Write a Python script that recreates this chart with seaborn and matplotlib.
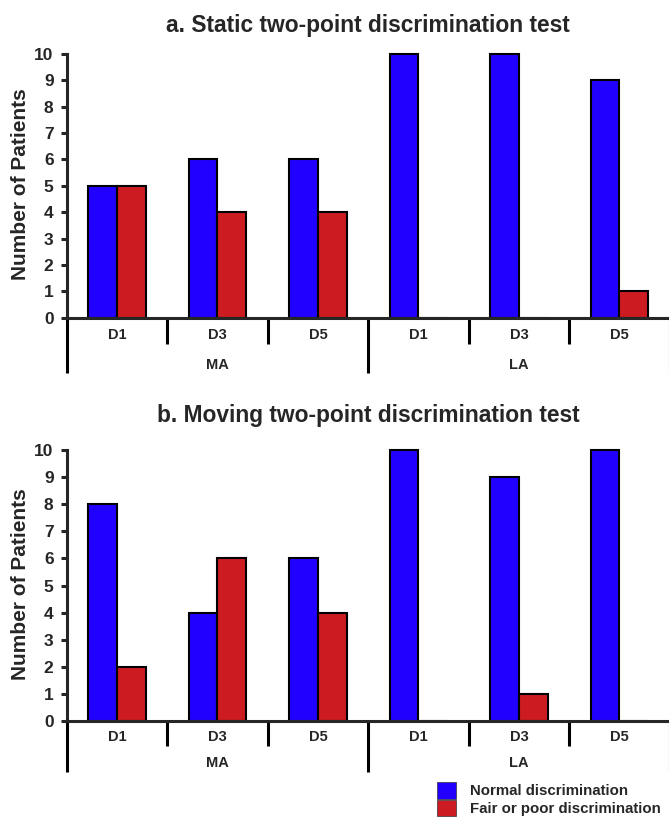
import numpy as np
import pandas as pd
import matplotlib
matplotlib.use("Agg")
import matplotlib.pyplot as plt
import seaborn as sns
from matplotlib.patches import Patch

# data
sites = ["MA", "MA", "MA", "LA", "LA", "LA"]
digits = ["D1", "D3", "D5", "D1", "D3", "D5"]
static_normal = [5, 6, 6, 10, 10, 9]
static_poor = [5, 4, 4, 0, 0, 1]
moving_normal = [8, 4, 6, 10, 9, 10]
moving_poor = [2, 6, 4, 0, 1, 0]
outcomes = ["Normal discrimination", "Fair or poor discrimination"]
colors = ["#2200FF", "#CC1C22"]

sns.set_style("ticks")
plt.rcParams["font.family"] = ["Liberation Sans", "DejaVu Sans"]
plt.rcParams["font.weight"] = "bold"

W, H = 669, 823


def make_df(normal, poor):
    rows = []
    for s, d, n, p in zip(sites, digits, normal, poor):
        rows.append({"pos": s + " " + d, "outcome": outcomes[0], "n": n})
        rows.append({"pos": s + " " + d, "outcome": outcomes[1], "n": p})
    return pd.DataFrame(rows)


def draw_panel(ax, df, title, ax_h, short_px, long_px, dlab_px, glab_px, pad):
    sns.barplot(data=df, x="pos", y="n", hue="outcome", hue_order=outcomes,
                palette=colors, width=0.57, edgecolor="black", linewidth=1.5,
                saturation=1, legend=False, ax=ax)
    ax.set_xlim(-0.5, 5.5)
    ax.set_ylim(0, 10.1)
    ax.spines["left"].set_bounds(0, 10)
    ax.spines["top"].set_visible(False)
    ax.spines["right"].set_visible(False)
    for sp in ["left", "bottom"]:
        ax.spines[sp].set_linewidth(2.2)
    ax.set_yticks(range(11))
    ax.set_xticks([])
    ax.tick_params(axis="y", length=4.5, width=2.2, pad=5, labelsize=12.5)
    for lab in ax.get_yticklabels():
        lab.set_fontweight("bold")
    ax.set_xlabel("")
    ax.set_ylabel("Number of Patients", fontsize=15, fontweight="bold", labelpad=3)
    ax.set_title(title, fontsize=16.4, fontweight="bold", pad=pad)

    tr = ax.get_xaxis_transform()
    for x in [-0.5, 0.5, 1.5, 2.5, 3.5, 4.5, 5.5]:
        depth = long_px if x in (-0.5, 2.5, 5.5) else short_px
        ax.plot([x, x], [0, -depth / ax_h], transform=tr, color="black",
                lw=2.2, clip_on=False, solid_capstyle="butt")
    for i, d in enumerate(digits):
        ax.text(i, -dlab_px / ax_h, d, transform=tr, ha="center", va="center",
                fontsize=10.5, fontweight="bold")
    ax.text(1, -glab_px / ax_h, "MA", transform=tr, ha="center", va="center",
            fontsize=10.5, fontweight="bold")
    ax.text(4, -glab_px / ax_h, "LA", transform=tr, ha="center", va="center",
            fontsize=10.5, fontweight="bold")


fig = plt.figure(figsize=(W / 100, H / 100), dpi=100)

ha_px = 263.7 * 1.01
hb_px = 271 * 1.01
ax1 = fig.add_axes([66.7 / W, (H - 317.7) / H, 603 / W, ha_px / H])
ax2 = fig.add_axes([66.7 / W, (H - 721) / H, 603 / W, hb_px / H])

draw_panel(ax1, make_df(static_normal, static_poor),
           "a. Static two-point discrimination test", ha_px, 26.5, 55, 17, 47, 14)
draw_panel(ax2, make_df(moving_normal, moving_poor),
           "b. Moving two-point discrimination test", hb_px, 25, 51, 16, 42, 18)

handles = [Patch(facecolor=c, edgecolor="#333333", linewidth=0.5) for c in colors]
fig.legend(handles=handles, labels=outcomes, loc="upper left",
           bbox_to_anchor=(437 / W, 1 - 782 / H), frameon=False,
           prop={"size": 10.8, "weight": "bold"}, handlelength=1.27,
           handleheight=1.33, labelspacing=0.07, handletextpad=0.93,
           borderpad=0, borderaxespad=0)

fig.savefig("out.png", dpi=100)
